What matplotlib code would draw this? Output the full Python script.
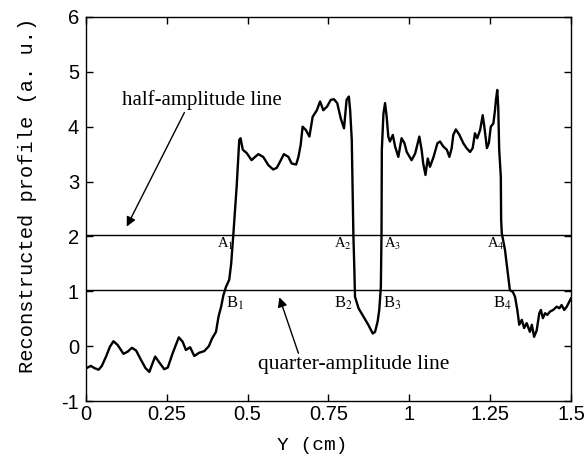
import numpy as np
import matplotlib
matplotlib.use('Agg')
import matplotlib.pyplot as plt

plt.rcParams['mathtext.fontset'] = 'stix'
plt.rcParams['axes.unicode_minus'] = False

# profile
y_cm = [0.005, 0.015, 0.026, 0.039, 0.049, 0.062, 0.074, 0.085, 0.098, 0.116,
        0.129, 0.142, 0.155, 0.170, 0.184, 0.196, 0.206, 0.214, 0.227, 0.242,
        0.253, 0.268, 0.287, 0.299, 0.309, 0.322, 0.335, 0.350, 0.366, 0.380,
        0.390, 0.402, 0.410, 0.418, 0.425, 0.433, 0.443, 0.449, 0.456, 0.466,
        0.474, 0.478, 0.485, 0.497, 0.512, 0.523, 0.533, 0.548, 0.564, 0.579,
        0.590, 0.600, 0.612, 0.626, 0.636, 0.650, 0.657, 0.664, 0.670, 0.680,
        0.691, 0.701, 0.714, 0.724, 0.734, 0.746, 0.757, 0.767, 0.777, 0.788,
        0.798, 0.806, 0.813, 0.817, 0.822, 0.825, 0.827, 0.830, 0.832, 0.843,
        0.858, 0.873, 0.887, 0.894, 0.902, 0.907, 0.912, 0.914, 0.915, 0.920,
        0.925, 0.930, 0.935, 0.940, 0.949, 0.956, 0.966, 0.976, 0.985, 0.992,
        1.007, 1.018, 1.031, 1.038, 1.043, 1.050, 1.057, 1.064, 1.075, 1.087,
        1.095, 1.105, 1.116, 1.124, 1.131, 1.136, 1.144, 1.155, 1.167, 1.177,
        1.188, 1.196, 1.203, 1.210, 1.219, 1.227, 1.232, 1.240, 1.246, 1.252,
        1.260, 1.265, 1.268, 1.272, 1.275, 1.278, 1.283, 1.284, 1.286, 1.296,
        1.301, 1.306, 1.311, 1.320, 1.327, 1.334, 1.340, 1.348, 1.355, 1.363,
        1.373, 1.379, 1.386, 1.394, 1.402, 1.407, 1.413, 1.420, 1.427, 1.435,
        1.445, 1.456, 1.464, 1.471, 1.479, 1.487, 1.495, 1.500]
profile = [-0.39, -0.36, -0.40, -0.43, -0.36, -0.19, -0.01, 0.09, 0.02, -0.14,
           -0.10, -0.03, -0.08, -0.25, -0.40, -0.47, -0.31, -0.19, -0.30, -0.42,
           -0.39, -0.13, 0.16, 0.08, -0.07, -0.02, -0.18, -0.12, -0.09, 0.00,
           0.14, 0.26, 0.54, 0.72, 0.93, 1.08, 1.21, 1.50, 2.06, 2.91,
           3.76, 3.79, 3.58, 3.52, 3.39, 3.45, 3.50, 3.45, 3.30, 3.22,
           3.25, 3.36, 3.50, 3.45, 3.33, 3.31, 3.45, 3.67, 4.00, 3.94,
           3.82, 4.18, 4.30, 4.46, 4.30, 4.37, 4.49, 4.50, 4.43, 4.15,
           3.97, 4.49, 4.55, 4.30, 3.76, 2.70, 2.03, 1.40, 0.90, 0.69,
           0.54, 0.39, 0.23, 0.26, 0.45, 0.66, 1.08, 2.06, 3.58, 4.24,
           4.43, 4.18, 3.82, 3.73, 3.85, 3.64, 3.45, 3.79, 3.70, 3.54,
           3.39, 3.51, 3.82, 3.58, 3.33, 3.12, 3.42, 3.27, 3.45, 3.70,
           3.73, 3.64, 3.58, 3.45, 3.61, 3.85, 3.95, 3.85, 3.70, 3.61,
           3.54, 3.61, 3.88, 3.79, 3.94, 4.21, 4.00, 3.61, 3.70, 4.00,
           4.06, 4.30, 4.49, 4.67, 4.37, 3.58, 3.09, 2.30, 2.06, 1.75,
           1.51, 1.27, 1.02, 0.99, 0.90, 0.66, 0.39, 0.48, 0.33, 0.42,
           0.26, 0.39, 0.17, 0.29, 0.60, 0.66, 0.51, 0.60, 0.57, 0.63,
           0.66, 0.72, 0.69, 0.75, 0.66, 0.72, 0.81, 0.87]

half_level = 2.03
quarter_level = 1.02

a_labels = ['A$_1$', 'A$_2$', 'A$_3$', 'A$_4$']
a_x = [0.404, 0.767, 0.922, 1.241]
b_labels = ['B$_1$', 'B$_2$', 'B$_3$', 'B$_4$']
b_x = [0.432, 0.767, 0.920, 1.260]

fig = plt.figure(figsize=(5.87, 4.63), dpi=100)
ax = fig.add_axes([0.1465, 0.1339, 0.8262, 0.8294])

ax.plot(y_cm, profile, color='black', lw=1.7)
ax.axhline(half_level, color='black', lw=1.0)
ax.axhline(quarter_level, color='black', lw=1.0)

for lab, xx in zip(a_labels, a_x):
    ax.text(xx, 1.86, lab, fontsize=10.5, family='Liberation Serif', va='center', ha='left')
for lab, xx in zip(b_labels, b_x):
    ax.text(xx, 0.78, lab, fontsize=12, family='Liberation Serif', va='center', ha='left')

ax.annotate('half-amplitude line', xy=(0.126, 2.18), xytext=(0.111, 4.49),
            fontsize=15, family='Liberation Serif', va='center', ha='left',
            arrowprops=dict(arrowstyle='-|>', color='black', lw=1.0,
                            mutation_scale=14, shrinkA=0, shrinkB=0,
                            relpos=(0.4, 0.0)))
ax.annotate('', xy=(0.598, 0.89), xytext=(0.657, -0.13),
            arrowprops=dict(arrowstyle='-|>', color='black', lw=1.0,
                            mutation_scale=14, shrinkA=0, shrinkB=0))
ax.text(0.829, -0.34, 'quarter-amplitude line', fontsize=15.5,
        family='Liberation Serif', va='center', ha='center')

ax.set_xlim(0, 1.5)
ax.set_ylim(-1, 6)
ax.set_xticks([0, 0.25, 0.5, 0.75, 1, 1.25, 1.5])
ax.set_xticklabels(['0', '0.25', '0.5', '0.75', '1', '1.25', '1.5'])
ax.set_yticks(range(-1, 7))
ax.tick_params(direction='in', top=True, right=True, length=5, width=1,
               labelsize=14.5)
ax.tick_params(axis='y', pad=5)
ax.tick_params(axis='x', pad=3)
for lab in ax.get_xticklabels() + ax.get_yticklabels():
    lab.set_family('Liberation Sans')
for s in ax.spines.values():
    s.set_linewidth(1.0)

ax.set_xlabel('Y (cm)', family='Liberation Mono', fontsize=14)
ax.xaxis.set_label_coords(0.466, -0.095)
ax.set_ylabel('Reconstructed profile (a. u.)', family='Liberation Mono',
              fontsize=14.7)
ax.yaxis.set_label_coords(-0.10, 0.536)

fig.savefig('out.png', dpi=100)
